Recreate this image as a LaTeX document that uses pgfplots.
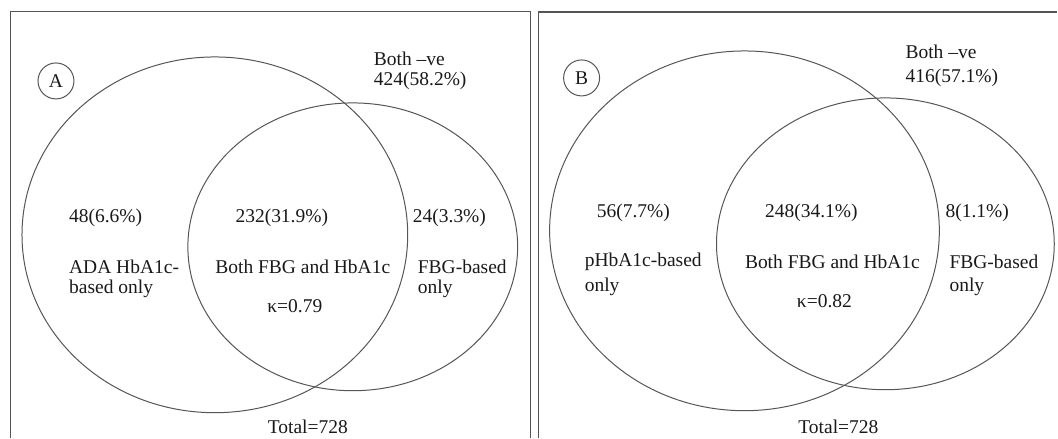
\documentclass[border=0pt]{standalone}
\usepackage{pgfplots}
\pgfplotsset{compat=1.18}
\usepackage{fontspec}
\setmainfont{Liberation Serif}
\definecolor{ln}{RGB}{85,85,85}
\definecolor{tx}{RGB}{25,25,25}
\begin{document}
\begin{tikzpicture}[t/.style={text=tx, inner sep=0pt, font=\fontsize{19.5}{22}\selectfont}]
\begin{axis}[
  width=1058pt, height=438pt, scale only axis,
  xmin=0, xmax=1058, ymin=0, ymax=438,
  hide axis, clip=false,
]
\path (axis cs:0,0) rectangle (axis cs:1058,438);
% panel frames
\draw[ln, line width=1.5pt] (axis cs:10.5,0) -- (axis cs:10.5,426.5) -- (axis cs:531,426.5) -- (axis cs:531,0);
\draw[ln, line width=1.5pt] (axis cs:539,0) -- (axis cs:539,426) -- (axis cs:1058,426);
% panel A
\draw[ln, line width=1pt] (axis cs:215,203) ellipse [x radius=193, y radius=178];
\draw[ln, line width=1pt] (axis cs:353,191) ellipse [x radius=165, y radius=144];
\draw[ln, line width=1pt] (axis cs:56,357) circle [radius=18];
% panel B
\draw[ln, line width=1pt] (axis cs:745,207) ellipse [x radius=195, y radius=180];
\draw[ln, line width=1pt] (axis cs:886,194) ellipse [x radius=169, y radius=146];
\draw[ln, line width=1pt] (axis cs:582,360) circle [radius=18];
% texts A
\node[t] at (axis cs:56,357) {A};
\node[t,anchor=west] at (axis cs:374,379) {Both –ve};
\node[t,anchor=west] at (axis cs:374,357) {424(58.2\%)};
\node[t,anchor=west] at (axis cs:69,220) {48(6.6\%)};
\node[t] at (axis cs:282,220) {232(31.9\%)};
\node[t,anchor=west] at (axis cs:413,220) {24(3.3\%)};
\node[t,anchor=west] at (axis cs:69,171) {ADA HbA1c-};
\node[t,anchor=west] at (axis cs:69,149) {based only};
\node[t] at (axis cs:303,171) {Both FBG and HbA1c};
\node[t] at (axis cs:295,132) {κ=0.79};
\node[t,anchor=west] at (axis cs:418,171) {FBG-based};
\node[t,anchor=west] at (axis cs:418,149) {only};
\node[t] at (axis cs:308,11) {Total=728};
% texts B
\node[t] at (axis cs:582,360) {B};
\node[t,anchor=west] at (axis cs:906,386) {Both –ve};
\node[t,anchor=west] at (axis cs:906,360) {416(57.1\%)};
\node[t,anchor=west] at (axis cs:597,225) {56(7.7\%)};
\node[t] at (axis cs:812,225) {248(34.1\%)};
\node[t,anchor=west] at (axis cs:946,225) {8(1.1\%)};
\node[t,anchor=west] at (axis cs:585,176) {pHbA1c-based};
\node[t,anchor=west] at (axis cs:585,151) {only};
\node[t] at (axis cs:833,176) {Both FBG and HbA1c};
\node[t] at (axis cs:825,137) {κ=0.82};
\node[t,anchor=west] at (axis cs:950,176) {FBG-based};
\node[t,anchor=west] at (axis cs:950,151) {only};
\node[t] at (axis cs:839,11) {Total=728};
\end{axis}
\end{tikzpicture}
\end{document}
